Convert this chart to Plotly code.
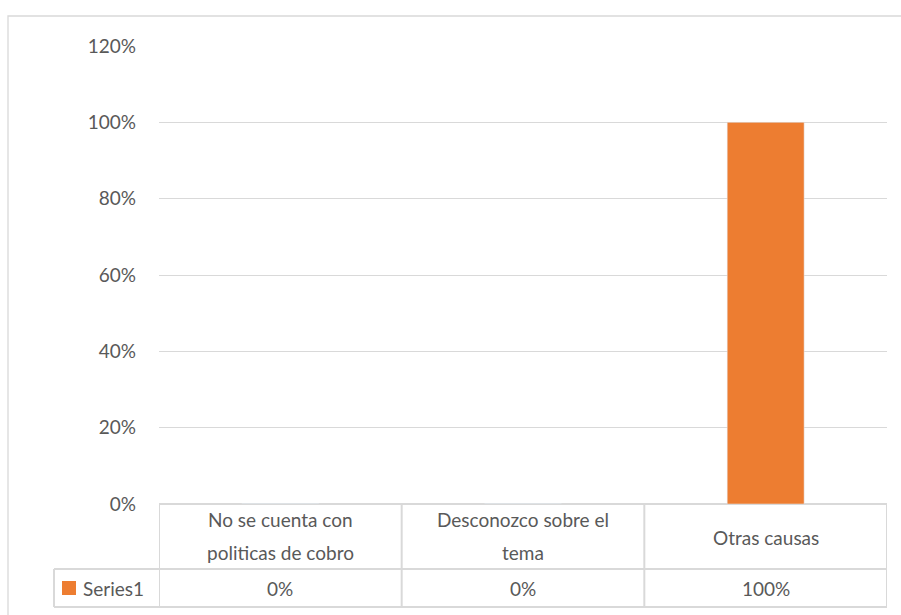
import plotly.graph_objects as go

# data
categorias = ["No se cuenta con<br>politicas de cobro", "Desconozco sobre el<br>tema", "Otras causas"]
valores = [0.0, 0.0, 1.0]
etiquetas = ["0%", "0%", "100%"]
serie = "Series1"

W, H = 901, 615
L, R, T, B = 159, 887, 46, 504   # plot area in px
naranja = "#ED7D31"
gris = "#D9D9D9"
texto = "#595959"
fuente = "Lato"
fs = 19


def px_x(p):
    return (p - L) / (R - L)


def px_y(p):
    return (B - p) / (B - T)


xs = list(range(len(categorias)))

fig = go.Figure()
fig.add_trace(go.Bar(x=xs, y=valores, name=serie, marker_color=naranja,
                     width=0.317, showlegend=False))

shapes = []
# outer chart border
shapes.append(dict(type="rect", xref="paper", yref="paper",
                   x0=px_x(8), x1=px_x(906), y0=px_y(620), y1=px_y(16),
                   line=dict(color=gris, width=1.3), layer="below"))
# data table lines
tl = dict(color=gris, width=2)
shapes.append(dict(type="line", xref="paper", yref="paper", x0=0, x1=1,
                   y0=px_y(569), y1=px_y(569), line=tl))
shapes.append(dict(type="line", xref="paper", yref="paper", x0=px_x(54), x1=px_x(L),
                   y0=px_y(569), y1=px_y(569), line=tl))
shapes.append(dict(type="line", xref="paper", yref="paper", x0=px_x(54), x1=1,
                   y0=px_y(607), y1=px_y(607), line=tl))
shapes.append(dict(type="line", xref="paper", yref="paper", x0=px_x(54), x1=px_x(54),
                   y0=px_y(569), y1=px_y(607), line=tl))
for i in range(len(categorias) + 1):
    shapes.append(dict(type="line", xref="x", yref="paper", x0=i - 0.5, x1=i - 0.5,
                       y0=px_y(504), y1=px_y(607), line=tl))
# legend key
shapes.append(dict(type="rect", xref="paper", yref="paper",
                   x0=px_x(62), x1=px_x(76), y0=px_y(595), y1=px_y(581),
                   fillcolor=naranja, line=dict(width=0)))

ann = []
for i, c in enumerate(categorias):
    partes = c.split("<br>")
    if len(partes) == 1:
        ys = [537]
    else:
        ys = [519, 552]
    for parte, yy in zip(partes, ys):
        ann.append(dict(x=i, y=px_y(yy), xref="x", yref="paper", text=parte,
                        showarrow=False, xanchor="center", yanchor="middle",
                        font=dict(family=fuente, size=fs, color=texto)))
    ann.append(dict(x=i, y=px_y(588), xref="x", yref="paper", text=etiquetas[i],
                    showarrow=False, xanchor="center", yanchor="middle",
                    font=dict(family=fuente, size=fs, color=texto)))
ann.append(dict(x=px_x(81), y=px_y(588), xref="paper", yref="paper", text=serie,
                showarrow=False, xanchor="left", yanchor="middle",
                font=dict(family=fuente, size=fs, color=texto)))

fig.update_layout(
    width=W, height=H,
    margin=dict(l=L, r=W - R, t=T, b=H - B, pad=0),
    paper_bgcolor="white", plot_bgcolor="white",
    shapes=shapes, annotations=ann,
    xaxis=dict(range=[-0.5, 2.5], showticklabels=False, showgrid=False,
               zeroline=False, showline=False, ticks=""),
    yaxis=dict(range=[0, 1.2], dtick=0.2, tickformat=".0%", showgrid=True,
               gridcolor=gris, gridwidth=1.3, zeroline=True, zerolinecolor=gris,
               zerolinewidth=2, showline=False, ticks="", ticklabelstandoff=22,
               tickfont=dict(family=fuente, size=fs, color=texto)),
)

# page has a default 8px body margin; drop it so the figure sits at 0,0
fig.write_html("out.html", config={"displayModeBar": False},
               post_script="document.body.style.margin='0px';")
